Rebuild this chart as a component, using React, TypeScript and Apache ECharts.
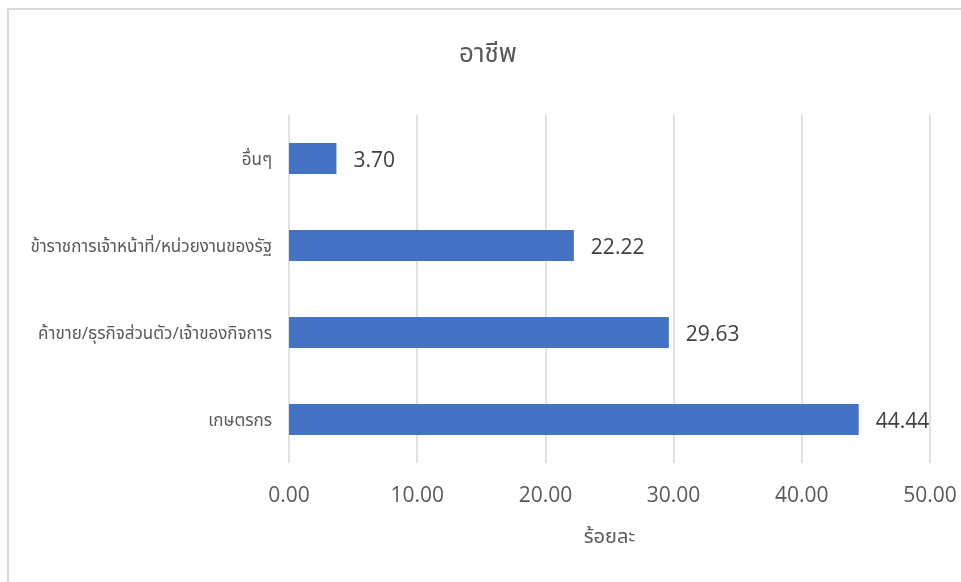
import React, { useEffect, useRef } from "react";
import * as echarts from "echarts";

const categories = [
  "เกษตรกร",
  "ค้าขาย/ธุรกิจส่วนตัว/เจ้าของกิจการ",
  "ข้าราชการเจ้าหน้าที่/หน่วยงานของรัฐ",
  "อื่นๆ",
];
const values = [44.44, 29.63, 22.22, 3.7];
const titleText = "อาชีพ";
const axisName = "ร้อยละ";

const FONT = "'Open Sans', 'Noto Sans Thai', 'Noto Sans', sans-serif";

export default function App() {
  const ref = useRef<HTMLDivElement>(null);
  useEffect(() => {
    if (!ref.current) return;
    const chart = echarts.init(ref.current, null, { renderer: "svg" });
    chart.setOption({
      animation: false,
      backgroundColor: "transparent",
      graphic: [
        {
          type: "text",
          x: 488,
          y: 52,
          style: {
            text: titleText,
            align: "center",
            verticalAlign: "middle",
            fontFamily: FONT,
            fontSize: 26,
            fill: "#595959",
          },
        },
      ],
      grid: { left: 289, right: 31, top: 115, bottom: 119, containLabel: false },
      xAxis: {
        type: "value",
        min: 0,
        max: 50,
        interval: 10,
        name: axisName,
        nameLocation: "middle",
        nameGap: 62,
        nameTextStyle: { fontFamily: FONT, fontSize: 20, color: "#595959" },
        axisLine: { show: false },
        axisTick: { show: false },
        axisLabel: {
          formatter: (v: number) => v.toFixed(2),
          fontFamily: FONT,
          fontSize: 21,
          color: "#595959",
          margin: 20,
        },
        splitLine: { show: true, lineStyle: { color: "#d9d9d9", width: 1.5 } },
      },
      yAxis: {
        type: "category",
        data: categories,
        axisLine: { show: false },
        axisTick: { show: false },
        axisLabel: { fontFamily: FONT, fontSize: 17, color: "#595959", margin: 17 },
      },
      series: [
        {
          type: "bar",
          data: values,
          barWidth: 31,
          itemStyle: { color: "#4472c4" },
          label: {
            show: true,
            position: "right",
            distance: 17,
            formatter: (p: any) => Number(p.value).toFixed(2),
            fontFamily: FONT,
            fontSize: 21,
            color: "#404040",
          },
        },
      ],
    });
    return () => chart.dispose();
  }, []);
  return (
    <div>
      <div
        style={{
          position: "fixed",
          left: 7,
          top: 8,
          width: 970,
          height: 590,
          borderTop: "2px solid #d9d9d9",
          borderLeft: "2px solid #d9d9d9",
          boxSizing: "border-box",
        }}
      />
      <div ref={ref} style={{ position: "fixed", left: 0, top: 0, width: 961, height: 582 }} />
    </div>
  );
}
